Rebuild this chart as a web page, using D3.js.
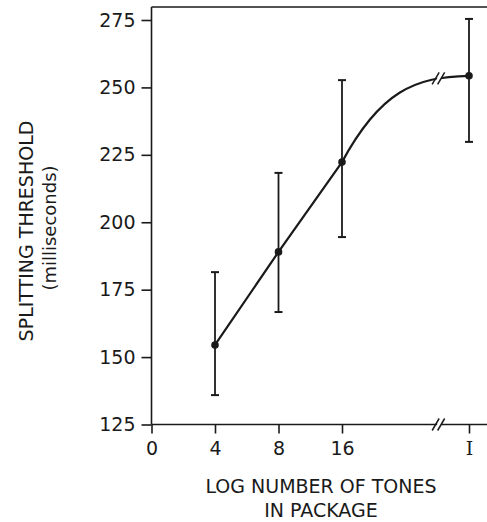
<!DOCTYPE html>
<html>
<head>
<meta charset="utf-8">
<script src="https://cdn.jsdelivr.net/npm/d3@7"></script>
<style>
  body { margin: 0; background: #fff; }
  svg text { font-family: "DejaVu Sans", sans-serif; fill: #1a1a1a; }
</style>
</head>
<body>
<svg id="chart"></svg>
<script>
// package sizes (x categories) and splitting thresholds in ms
const xLabels = ["0", "4", "8", "16", "I"];
const tones = ["4", "8", "16", "I"];
const means = [154.5, 189.0, 222.3, 254.3];
const errLow = [135.9, 166.7, 194.5, 229.8];
const errHigh = [181.5, 218.3, 252.7, 275.4];
const yTicks = [125, 150, 175, 200, 225, 250, 275];

const W = 487, H = 522;
const ink = "#1a1a1a";

const svg = d3.select("#chart").attr("width", W).attr("height", H);

// slot of each category along the axis, the break sits between 16 and I
const slot = { "0": 0, "4": 1, "8": 2, "16": 3, "I": 5 };
const breakSlot = 4.53;

const x = d3.scaleLinear().domain([0, 5]).range([151.5, 469]);
const y = d3.scaleLinear().domain([125, 275]).range([424.5, 20]);
const xPos = d => x(slot[d]);

const frameL = x(0), frameB = y(125), frameT = 7, frameR = W;

// frame: top line and x baseline run to the right edge
svg.append("line")
  .attr("x1", frameL).attr("x2", frameR).attr("y1", frameT).attr("y2", frameT)
  .attr("stroke", ink).attr("stroke-width", 1.6);
svg.append("line")
  .attr("x1", frameL).attr("x2", frameR).attr("y1", frameB).attr("y2", frameB)
  .attr("stroke", ink).attr("stroke-width", 1.6);
svg.append("line")
  .attr("x1", frameL).attr("x2", frameL).attr("y1", frameT).attr("y2", frameB)
  .attr("stroke", ink).attr("stroke-width", 1.6);

// y axis
const yAxis = svg.append("g")
  .attr("transform", `translate(${frameL},0)`)
  .call(d3.axisLeft(y).tickValues(yTicks).tickSize(10).tickPadding(6));
yAxis.select(".domain").remove();
yAxis.selectAll("line").attr("stroke", ink).attr("stroke-width", 1.6);
yAxis.selectAll("text")
  .style("font-size", "19px")
  .style("font-family", "'DejaVu Sans', sans-serif")
  .attr("fill", ink);

// x axis
const xAxis = svg.append("g")
  .attr("transform", `translate(0,${frameB})`)
  .call(d3.axisBottom(x)
    .tickValues(xLabels.map(d => slot[d]))
    .tickFormat((d, i) => xLabels[i])
    .tickSize(9).tickPadding(8));
xAxis.select(".domain").remove();
xAxis.selectAll("line").attr("stroke", ink).attr("stroke-width", 1.6);
xAxis.selectAll("text")
  .style("font-size", "19px")
  .style("font-family", (d, i) => xLabels[i] === "I" ? "'DejaVu Serif', serif" : "'DejaVu Sans', sans-serif")
  .attr("fill", ink);

// "//" break mark
function breakMark(cx, cy) {
  const g = svg.append("g").attr("transform", `translate(${cx},${cy})`);
  g.append("polygon")
    .attr("points", "-5,6 -1,6 5,-6 1,-6")
    .attr("fill", "#fff");
  [-3.5, 2].forEach(dx => {
    g.append("line")
      .attr("x1", dx - 3.5).attr("y1", 6).attr("x2", dx + 3.5).attr("y2", -6)
      .attr("stroke", ink).attr("stroke-width", 1.5);
  });
}
breakMark(x(breakSlot), frameB);

// error bars
const bars = svg.append("g");
tones.forEach((t, i) => {
  const cx = xPos(t);
  bars.append("line")
    .attr("x1", cx).attr("x2", cx).attr("y1", y(errLow[i])).attr("y2", y(errHigh[i]))
    .attr("stroke", ink).attr("stroke-width", 1.8);
  [errLow[i], errHigh[i]].forEach(v => {
    bars.append("line")
      .attr("x1", cx - 4).attr("x2", cx + 4).attr("y1", y(v)).attr("y2", y(v))
      .attr("stroke", ink).attr("stroke-width", 2);
  });
});

// data line: straight through 4, 8, 16 then bending into I
const pts = tones.map((t, i) => [xPos(t), y(means[i])]);
const p = d3.path();
p.moveTo(pts[0][0], pts[0][1]);
p.lineTo(pts[1][0], pts[1][1]);
p.lineTo(pts[2][0], pts[2][1]);
const [x0, y0] = pts[2], [x3, y3] = pts[3];
const dx = x3 - x0, dy = y3 - y0;
p.bezierCurveTo(x0 + 0.3 * dx, y0 + 0.82 * dy, x0 + 0.575 * dx, y3 + 1, x3, y3);
const curve = svg.append("path")
  .attr("d", p.toString())
  .attr("fill", "none")
  .attr("stroke", ink).attr("stroke-width", 2.2);

// break on the curve
const node = curve.node();
const len = node.getTotalLength();
let bx = x(breakSlot), by = y3;
for (let s = len; s > 0; s -= 0.5) {
  const q = node.getPointAtLength(s);
  if (q.x <= bx) { by = q.y; break; }
}
breakMark(bx, by);

// points
svg.append("g").selectAll("circle")
  .data(tones)
  .enter()
  .append("circle")
  .attr("cx", d => xPos(d))
  .attr("cy", (d, i) => y(means[i]))
  .attr("r", 3.8)
  .attr("fill", ink);

// titles
svg.append("text")
  .attr("transform", "translate(33,231) rotate(-90)")
  .attr("text-anchor", "middle")
  .style("font-size", "19px")
  .text("SPLITTING THRESHOLD");
svg.append("text")
  .attr("transform", "translate(56,228) rotate(-90)")
  .attr("text-anchor", "middle")
  .style("font-size", "18px")
  .text("(milliseconds)");

svg.append("text")
  .attr("x", 321).attr("y", 493)
  .attr("text-anchor", "middle")
  .style("font-size", "19px")
  .text("LOG NUMBER OF TONES");
svg.append("text")
  .attr("x", 321).attr("y", 517)
  .attr("text-anchor", "middle")
  .style("font-size", "19px")
  .text("IN PACKAGE");
</script>
</body>
</html>
